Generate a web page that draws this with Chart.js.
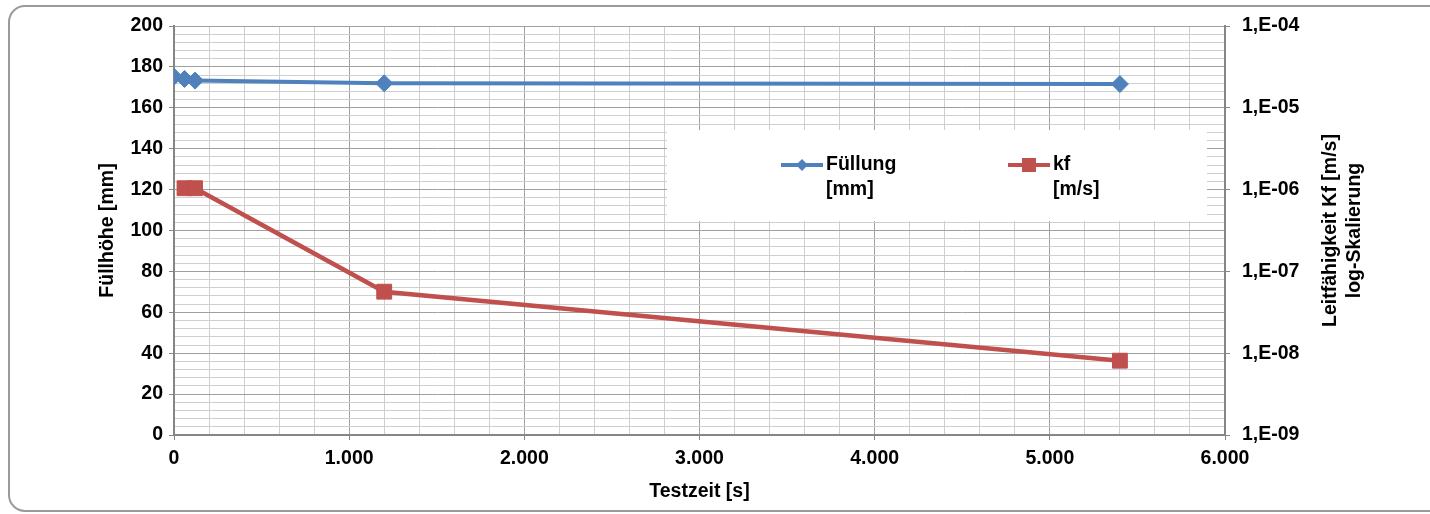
<!DOCTYPE html>
<html>
<head>
<meta charset="utf-8">
<script src="https://cdn.jsdelivr.net/npm/chart.js@4.4.1/dist/chart.umd.min.js"></script>
<style>
  html, body { margin: 0; padding: 0; background: #fff; overflow: hidden; }
  canvas { position: absolute; left: 0; top: 0; }
  #frame { position: absolute; left: 8px; top: 5px; width: 1460px; height: 503px;
           border: 2px solid #9a9a9a; border-radius: 17px; pointer-events: none; }
</style>
</head>
<body>
<canvas id="kfChart" width="1430" height="514"></canvas>
<div id="frame"></div>
<script>
// Messwerte
var zeit = [0, 60, 120, 1200, 5400];
var fuellung = [175.2, 174.1, 173.3, 172, 171.6];
var kfZeit = [60, 120, 1200, 5400];
var kf = [1.04e-6, 1.04e-6, 5.65e-8, 8.1e-9];

// Achsenbeschriftung
var xTickLabels = ['0', '1.000', '2.000', '3.000', '4.000', '5.000', '6.000'];
var kfTickValues = [1e-9, 1e-8, 1e-7, 1e-6, 1e-5, 1e-4];
var kfTickLabels = ['1,E-09', '1,E-08', '1,E-07', '1,E-06', '1,E-05', '1,E-04'];

var FONT = '"Liberation Sans", Arial, sans-serif';
var SIZE = 19.5;
var AXIS = '#868686';
var MAJOR = '#a0a0a0';
var MINOR = '#cfcfcf';

function steps(from, to, step) {
  var out = [];
  for (var v = from; v <= to + 1e-9; v += step) out.push({ value: v });
  return out;
}

// weisse Legendenbox im Diagramm
var legendBox = {
  id: 'legendBox',
  beforeDatasetsDraw: function (chart) {
    var ctx = chart.ctx;
    var xs = [781, 1008];
    ctx.save();
    ctx.fillStyle = '#fff';
    ctx.fillRect(667, 130, 540, 91);
    chart.data.datasets.forEach(function (ds, i) {
      var x = xs[i], y = 165;
      ctx.strokeStyle = ds.borderColor;
      ctx.lineWidth = 4;
      ctx.beginPath();
      ctx.moveTo(x, y);
      ctx.lineTo(x + 42, y);
      ctx.stroke();
      ctx.fillStyle = ds.borderColor;
      ctx.beginPath();
      if (ds.pointStyle === 'rectRot') {
        ctx.moveTo(x + 21, y - 6);
        ctx.lineTo(x + 27, y);
        ctx.lineTo(x + 21, y + 6);
        ctx.lineTo(x + 15, y);
        ctx.closePath();
      } else {
        ctx.rect(x + 14, y - 7, 14, 14);
      }
      ctx.fill();
      ctx.fillStyle = '#000';
      ctx.font = 'bold ' + SIZE + 'px ' + FONT;
      ctx.textAlign = 'left';
      ctx.textBaseline = 'middle';
      ds.label.split(' ').forEach(function (line, j) {
        ctx.fillText(line, x + 45, y + j * 24.5);
      });
    });
    ctx.restore();
  }
};

// Titel der rechten Achse, von unten nach oben gelesen
var rightTitle = {
  id: 'rightTitle',
  afterDraw: function (chart) {
    var ctx = chart.ctx;
    var yc = (chart.chartArea.top + chart.chartArea.bottom) / 2;
    var lines = ['Leitfähigkeit Kf [m/s]', 'log-Skalierung'];
    ctx.save();
    ctx.fillStyle = '#000';
    ctx.font = 'bold ' + SIZE + 'px ' + FONT;
    ctx.textAlign = 'center';
    ctx.textBaseline = 'middle';
    lines.forEach(function (t, i) {
      ctx.save();
      ctx.translate(1331 + i * 24, yc);
      ctx.rotate(-Math.PI / 2);
      ctx.fillText(t, 0, 0);
      ctx.restore();
    });
    ctx.restore();
  }
};

var ctx = document.getElementById('kfChart');
var kfChart = new Chart(ctx, {
  type: 'line',
  data: {
    datasets: [{
      label: 'Füllung [mm]',
      data: zeit.map(function (t, i) { return { x: t, y: fuellung[i] }; }),
      yAxisID: 'y',
      borderColor: '#4f81bd',
      backgroundColor: '#4f81bd',
      borderWidth: 4,
      pointStyle: 'rectRot',
      pointRadius: 8.5,
      pointBorderWidth: 1,
      tension: 0
    }, {
      label: 'kf [m/s]',
      data: kfZeit.map(function (t, i) { return { x: t, y: kf[i] }; }),
      yAxisID: 'y2',
      borderColor: '#c0504d',
      backgroundColor: '#c0504d',
      borderWidth: 4.5,
      pointStyle: 'rect',
      pointRadius: 10.5,
      pointBorderWidth: 1,
      tension: 0
    }]
  },
  options: {
    responsive: false,
    animation: false,
    layout: { padding: { top: 26, left: 0, right: 0, bottom: 0 } },
    font: { family: FONT, size: SIZE, weight: 'bold' },
    scales: {
      x: {
        type: 'linear',
        min: 0,
        max: 6000,
        afterBuildTicks: function (s) { s.ticks = steps(0, 6000, 200); },
        afterFit: function (s) { s.height = 79; },
        ticks: {
          autoSkip: false,
          maxRotation: 0,
          padding: 7,
          color: '#000',
          font: { family: FONT, size: SIZE, weight: 'bold' },
          callback: function (v) { return v % 1000 === 0 ? xTickLabels[v / 1000] : ''; }
        },
        grid: {
          color: function (c) { return c.tick && c.tick.value % 1000 === 0 ? MAJOR : MINOR; },
          tickColor: function (c) { return c.tick && c.tick.value % 1000 === 0 ? AXIS : 'rgba(0,0,0,0)'; },
          tickLength: 5,
          lineWidth: 1
        },
        border: { color: AXIS, width: 2 },
        title: {
          display: true,
          text: 'Testzeit [s]',
          color: '#000',
          font: { family: FONT, size: SIZE, weight: 'bold' },
          padding: { top: 0, bottom: 11 }
        }
      },
      y: {
        position: 'left',
        min: 0,
        max: 200,
        afterBuildTicks: function (s) { s.ticks = steps(0, 200, 4); },
        afterFit: function (s) { s.width = 174; },
        ticks: {
          autoSkip: false,
          padding: 6,
          color: '#000',
          font: { family: FONT, size: SIZE, weight: 'bold' },
          callback: function (v) { return v % 20 === 0 ? String(v) : ''; }
        },
        grid: {
          color: function (c) { return c.tick && c.tick.value % 20 === 0 ? MAJOR : MINOR; },
          tickColor: function (c) { return c.tick && c.tick.value % 20 === 0 ? AXIS : 'rgba(0,0,0,0)'; },
          tickLength: 5,
          lineWidth: 1
        },
        border: { color: AXIS, width: 2 },
        title: {
          display: true,
          text: 'Füllhöhe [mm]',
          color: '#000',
          font: { family: FONT, size: SIZE, weight: 'bold' },
          padding: { top: 96, bottom: 0 }
        }
      },
      y2: {
        type: 'logarithmic',
        position: 'right',
        min: 1e-9,
        max: 1e-4,
        afterBuildTicks: function (s) {
          s.ticks = kfTickValues.map(function (v) { return { value: v, major: true }; });
        },
        afterFit: function (s) { s.width = 205; },
        ticks: {
          autoSkip: false,
          padding: 12,
          color: '#000',
          font: { family: FONT, size: SIZE, weight: 'bold' },
          callback: function (v, i) { return kfTickLabels[i]; }
        },
        grid: { drawOnChartArea: false, tickLength: 5, tickColor: AXIS },
        border: { color: AXIS, width: 2 }
      }
    },
    plugins: {
      legend: { display: false },
      tooltip: { enabled: false }
    }
  },
  plugins: [legendBox, rightTitle]
});
</script>
</body>
</html>
